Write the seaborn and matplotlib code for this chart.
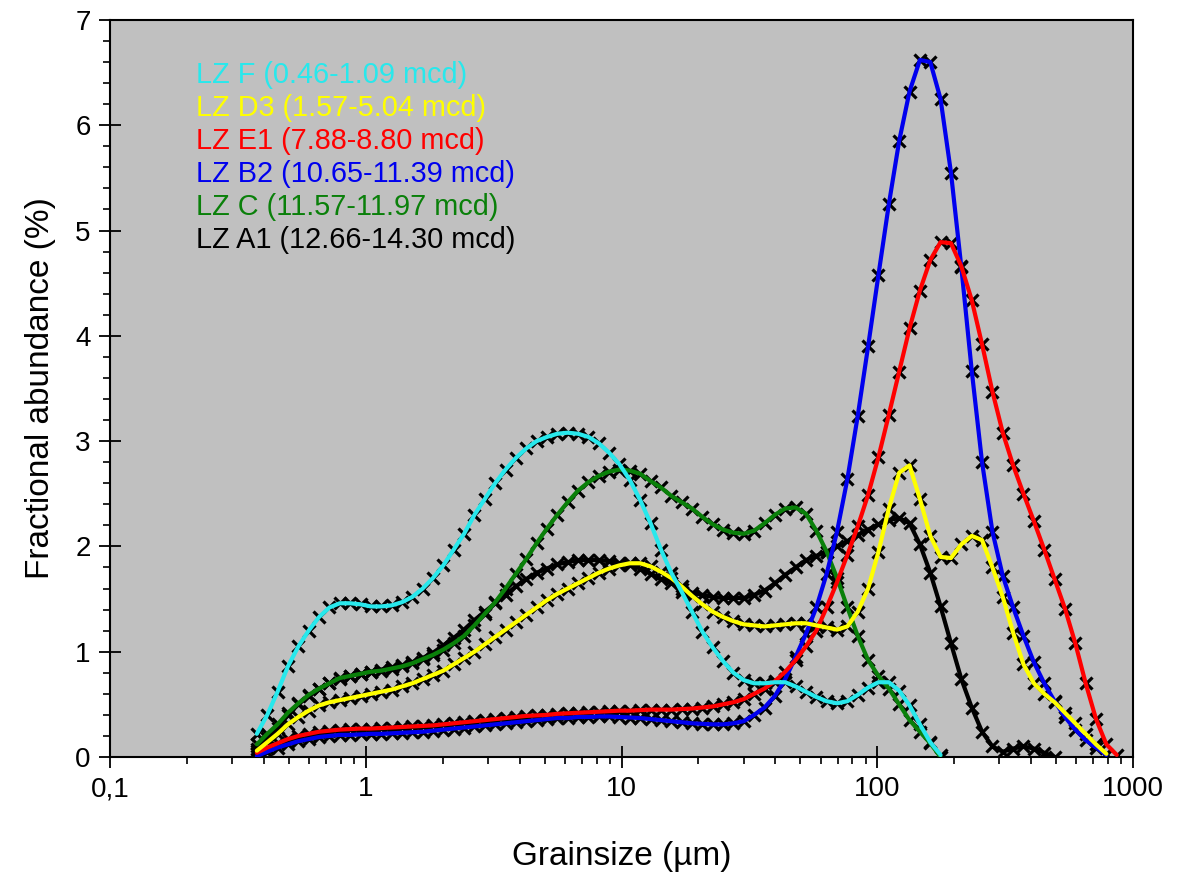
"""
Grain size distributions of the LZ samples, fractional abundance per size bin.
"""

import numpy as np
import pandas as pd
import matplotlib
matplotlib.use("Agg")
import matplotlib.pyplot as plt
from matplotlib.ticker import LogLocator, MultipleLocator, NullFormatter
import seaborn as sns


# size bins of the laser sizer (um)
grain_size = [0.375, 0.412, 0.452, 0.496, 0.545, 0.598, 0.657, 0.721, 0.791, 0.869,
              0.954, 1.047, 1.149, 1.261, 1.385, 1.520, 1.669, 1.832, 2.010, 2.207,
              2.423, 2.660, 2.920, 3.205, 3.519, 3.863, 4.240, 4.655, 5.110, 5.610,
              6.158, 6.760, 7.421, 8.147, 8.943, 9.817, 10.78, 11.83, 12.99, 14.26,
              15.65, 17.18, 18.86, 20.71, 22.73, 24.95, 27.39, 30.07, 33.01, 36.24,
              39.78, 43.67, 47.94, 52.62, 57.77, 63.41, 69.61, 76.42, 83.89, 92.09,
              101.1, 111.0, 121.8, 133.7, 146.8, 161.2, 176.8, 194.2, 213.2, 234.1,
              256.9, 282.1, 309.6, 339.9, 373.1, 409.6, 449.7, 493.6, 541.9, 594.9,
              653.0, 716.9, 786.9, 863.9]

lz_f = [0.22, 0.40, 0.62, 0.86, 1.05, 1.20, 1.33, 1.42, 1.46, 1.46,
        1.45, 1.43, 1.43, 1.44, 1.47, 1.52, 1.60, 1.70, 1.82, 1.97,
        2.12, 2.30, 2.45, 2.60, 2.73, 2.84, 2.93, 3.00, 3.04, 3.07,
        3.08, 3.07, 3.04, 2.98, 2.89, 2.78, 2.63, 2.44, 2.22, 1.97,
        1.75, 1.57, 1.38, 1.19, 1.04, 0.91, 0.80, 0.73, 0.70, 0.70,
        0.71, 0.71, 0.67, 0.62, 0.57, 0.53, 0.51, 0.53, 0.59, 0.66,
        0.71, 0.71, 0.63, 0.49, 0.31, 0.14, 0.02]

lz_d3 = [0.06, 0.14, 0.22, 0.31, 0.38, 0.44, 0.49, 0.52, 0.54, 0.56,
         0.58, 0.60, 0.62, 0.64, 0.67, 0.70, 0.74, 0.78, 0.82, 0.88,
         0.94, 1.00, 1.07, 1.14, 1.21, 1.28, 1.35, 1.42, 1.49, 1.55,
         1.60, 1.65, 1.70, 1.75, 1.79, 1.82, 1.84, 1.84, 1.81, 1.76,
         1.70, 1.62, 1.53, 1.45, 1.38, 1.33, 1.29, 1.26, 1.25, 1.24,
         1.25, 1.26, 1.27, 1.27, 1.25, 1.23, 1.21, 1.24, 1.38, 1.60,
         1.95, 2.36, 2.70, 2.77, 2.45, 2.10, 1.90, 1.89, 2.02, 2.10,
         2.06, 1.80, 1.52, 1.18, 0.88, 0.70, 0.60, 0.52, 0.42, 0.32,
         0.22, 0.12, 0.03]

lz_e1 = [0.04, 0.09, 0.13, 0.17, 0.20, 0.22, 0.24, 0.25, 0.26, 0.265,
         0.27, 0.27, 0.275, 0.28, 0.285, 0.29, 0.295, 0.30, 0.31, 0.32,
         0.33, 0.34, 0.35, 0.36, 0.37, 0.38, 0.39, 0.395, 0.40, 0.41,
         0.415, 0.42, 0.425, 0.43, 0.435, 0.44, 0.44, 0.445, 0.45, 0.45,
         0.45, 0.455, 0.46, 0.47, 0.48, 0.50, 0.52, 0.55, 0.60, 0.65,
         0.72, 0.81, 0.92, 1.05, 1.20, 1.42, 1.66, 1.92, 2.19, 2.49,
         2.85, 3.25, 3.66, 4.07, 4.43, 4.72, 4.89, 4.88, 4.66, 4.34,
         3.92, 3.47, 3.08, 2.77, 2.50, 2.24, 1.97, 1.69, 1.41, 1.08,
         0.70, 0.36, 0.12, 0.02]

lz_b2 = [0.01, 0.05, 0.09, 0.12, 0.15, 0.17, 0.19, 0.20, 0.21, 0.21,
         0.215, 0.22, 0.22, 0.225, 0.23, 0.235, 0.24, 0.25, 0.26, 0.27,
         0.28, 0.29, 0.30, 0.31, 0.32, 0.33, 0.34, 0.35, 0.36, 0.37,
         0.37, 0.38, 0.38, 0.385, 0.385, 0.38, 0.375, 0.37, 0.36, 0.35,
         0.34, 0.33, 0.32, 0.315, 0.31, 0.31, 0.32, 0.34, 0.40, 0.47,
         0.58, 0.74, 0.95, 1.17, 1.42, 1.74, 2.14, 2.64, 3.24, 3.90,
         4.58, 5.25, 5.85, 6.32, 6.62, 6.60, 6.25, 5.55, 4.65, 3.67,
         2.80, 2.14, 1.72, 1.42, 1.15, 0.90, 0.70, 0.53, 0.38, 0.26,
         0.16, 0.09, 0.02]

lz_c = [0.12, 0.22, 0.31, 0.42, 0.51, 0.59, 0.65, 0.70, 0.75, 0.77,
        0.79, 0.81, 0.82, 0.84, 0.86, 0.89, 0.93, 0.97, 1.02, 1.08,
        1.15, 1.25, 1.36, 1.47, 1.60, 1.74, 1.88, 2.03, 2.17, 2.30,
        2.42, 2.53, 2.61, 2.67, 2.71, 2.73, 2.72, 2.69, 2.62, 2.56,
        2.48, 2.42, 2.36, 2.28, 2.21, 2.16, 2.13, 2.12, 2.15, 2.22,
        2.30, 2.36, 2.37, 2.31, 2.15, 1.95, 1.70, 1.42, 1.15, 0.92,
        0.77, 0.65, 0.50, 0.35, 0.24, 0.13, 0.0]

lz_a1 = [0.08, 0.18, 0.28, 0.40, 0.50, 0.58, 0.65, 0.70, 0.74, 0.77,
         0.79, 0.81, 0.83, 0.85, 0.87, 0.90, 0.94, 0.99, 1.06, 1.13,
         1.21, 1.30, 1.38, 1.46, 1.54, 1.62, 1.69, 1.75, 1.79, 1.83,
         1.85, 1.87, 1.87, 1.87, 1.86, 1.84, 1.82, 1.79, 1.74, 1.69,
         1.65, 1.60, 1.56, 1.54, 1.52, 1.51, 1.51, 1.51, 1.54, 1.58,
         1.65, 1.73, 1.80, 1.87, 1.91, 1.95, 2.00, 2.05, 2.11, 2.16,
         2.21, 2.25, 2.27, 2.22, 2.02, 1.75, 1.43, 1.08, 0.74, 0.47,
         0.24, 0.10, 0.05, 0.08, 0.10, 0.08, 0.04, 0.0]

labels = ["LZ F (0.46-1.09 mcd)", "LZ D3 (1.57-5.04 mcd)", "LZ E1 (7.88-8.80 mcd)",
          "LZ B2 (10.65-11.39 mcd)", "LZ C (11.57-11.97 mcd)", "LZ A1 (12.66-14.30 mcd)"]
colors = ["#28e8ec", "#ffff00", "#ff0000", "#0000ee", "#0a800a", "#000000"]
series = [lz_f, lz_d3, lz_e1, lz_b2, lz_c, lz_a1]


sns.set_style("ticks")
plt.rcParams['font.family'] = ['Liberation Sans', 'DejaVu Sans']
plt.rcParams['text.color'] = 'black'
plt.rcParams['axes.labelcolor'] = 'black'

fig = plt.figure(figsize=(11.78, 8.83), dpi=100)
ax = fig.add_axes([0.0934, 0.1427, 0.8684, 0.8347])
ax.set_xscale('log')
ax.set_facecolor('#c0c0c0')

# black crosses at every bin, coloured line drawn through them
draw_order = [5, 4, 3, 2, 1, 0]
for i in draw_order:
    d = pd.DataFrame({"size": grain_size[:len(series[i])], "frac": series[i]})
    sns.lineplot(data=d, x="size", y="frac", ax=ax, linestyle="none", marker="x",
                 markersize=9, markeredgecolor="black", markeredgewidth=2.3,
                 estimator=None, sort=False, legend=False, zorder=2)
for i in draw_order:
    d = pd.DataFrame({"size": grain_size[:len(series[i])], "frac": series[i]})
    sns.lineplot(data=d, x="size", y="frac", ax=ax, color=colors[i], lw=3.0,
                 estimator=None, sort=False, legend=False, zorder=3)

# coloured labels in place of a legend
for i, (lab, col) in enumerate(zip(labels, colors)):
    ax.text(0.084, 0.925 - i * 0.0448, lab, color=col, fontsize=20.8,
            va='center', ha='left', transform=ax.transAxes)

ax.set_xlim(0.1, 1000)
ax.set_ylim(0, 7)
ax.set_xticks([0.1, 1, 10, 100, 1000])
ax.set_xticklabels(["0,1", "1", "10", "100", "1000"])
ax.xaxis.set_minor_locator(LogLocator(base=10, subs=np.arange(2, 10)))
ax.xaxis.set_minor_formatter(NullFormatter())
ax.yaxis.set_major_locator(MultipleLocator(1))
ax.yaxis.set_minor_locator(MultipleLocator(0.2))

ax.tick_params(which='major', direction='inout', length=16, width=1.3,
               labelsize=20, pad=6, top=False, right=False, colors='black')
ax.tick_params(which='minor', direction='out', length=5, width=1.2,
               top=False, right=False, colors='black')
for s in ax.spines.values():
    s.set_linewidth(1.5)
    s.set_color('black')

ax.set_xlabel("Grainsize (µm)", fontsize=24, labelpad=28)
ax.set_ylabel("Fractional abundance (%)", fontsize=24, labelpad=14)

fig.savefig("out.png", dpi=100, facecolor='white')
